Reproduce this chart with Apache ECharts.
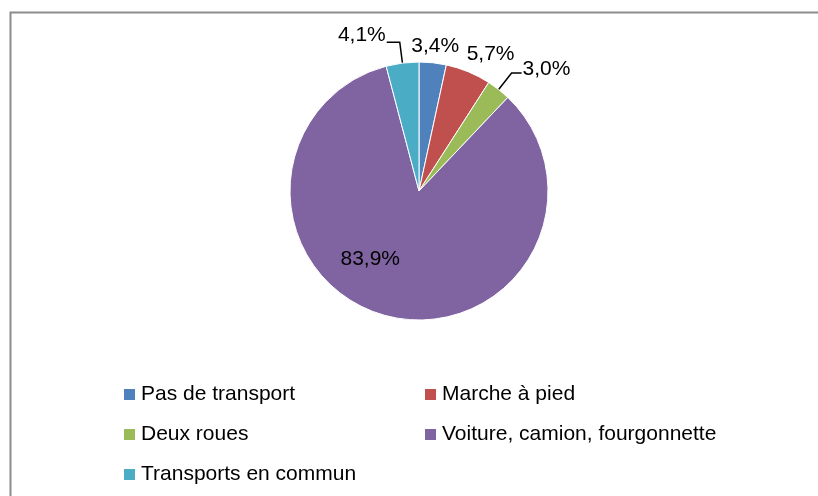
<!DOCTYPE html>
<html>
<head>
<meta charset="utf-8">
<script src="https://cdn.jsdelivr.net/npm/echarts@6/dist/echarts.min.js"></script>
<style>
  html, body { margin: 0; padding: 0; background: #ffffff; }
  #chart { width: 818px; height: 496px; }
</style>
</head>
<body>
<div id="chart"></div>
<script>
  // parts modales (en %)
  var categories = [
    "Pas de transport",
    "Marche à pied",
    "Deux roues",
    "Voiture, camion, fourgonnette",
    "Transports en commun"
  ];
  var shares = [3.4, 5.7, 3.0, 83.9, 4.1];
  var colors = ["#4F81BD", "#C0504D", "#9BBB59", "#8064A2", "#4BACC6"];

  var legendLeft = ["Pas de transport", "Deux roues", "Transports en commun"];
  var legendRight = ["Marche à pied", "Voiture, camion, fourgonnette"];

  var FONT = "'Liberation Sans', Arial, sans-serif";

  function fmt(v) {
    return v.toFixed(1).replace(".", ",") + "%";
  }

  // réglages d'étiquette par part (raise = remonte le texte au-dessus du trait)
  var labelTweaks = [
    { line: false, length: 14, length2: 0, raise: 0 },
    { line: false, length: 14, length2: 0, raise: 0 },
    { line: true, length: 21, length2: 10, raise: 8 },
    { inside: true, raise: 0 },
    { line: true, length: 21, length2: 13, raise: 14 }
  ];
  var labelShift = [[-28, -3], [-12, -5], [0, 0], [-32, 3], [0, 0]];

  var data = categories.map(function (name, i) {
    var t = labelTweaks[i];
    var item = { name: name, value: shares[i], itemStyle: { color: colors[i] } };
    if (t.inside) {
      item.label = { position: "inside" };
      item.labelLine = { show: false };
    } else {
      item.label = {
        position: "outside",
        distanceToLabelLine: t.line ? 1 : 5,
        rich: { g: { lineHeight: t.raise || 1, fontSize: 1 } }
      };
      item.labelLine = { show: t.line, length: t.length, length2: t.length2 };
    }
    return item;
  });

  function legendBlock(names, left) {
    return {
      orient: "vertical",
      left: left,
      top: 379,
      data: names,
      icon: "rect",
      itemWidth: 13,
      itemHeight: 13,
      itemGap: 19,
      selectedMode: false,
      textStyle: { fontFamily: FONT, fontSize: 21, color: "#000000" }
    };
  }

  var chart = echarts.init(document.getElementById("chart"), null, { renderer: "canvas" });
  chart.setOption({
    backgroundColor: "#ffffff",
    animation: false,
    graphic: [{
      type: "rect",
      left: 8,
      top: 10,
      shape: { width: 830, height: 500 },
      style: { fill: null, stroke: "#8c8c8c", lineWidth: 2 },
      silent: true
    }],
    legend: [legendBlock(legendLeft, 117), legendBlock(legendRight, 418)],
    series: [{
      type: "pie",
      center: [419, 191],
      radius: [0, 129],
      startAngle: 90,
      clockwise: true,
      avoidLabelOverlap: false,
      data: data,
      itemStyle: { borderColor: "#ffffff", borderWidth: 1 },
      label: {
        fontFamily: FONT,
        fontSize: 21,
        lineHeight: 21,
        color: "#000000",
        formatter: function (p) {
          var t = labelTweaks[p.dataIndex];
          var txt = fmt(p.value);
          return t.raise ? txt + "\n{g|}" : txt;
        }
      },
      labelLine: {
        lineStyle: { color: "#000000", width: 1.5 },
        smooth: false
      },
      labelLayout: function (p) {
        var s = labelShift[p.dataIndex];
        return { dx: s[0], dy: s[1] };
      }
    }]
  });
</script>
</body>
</html>
